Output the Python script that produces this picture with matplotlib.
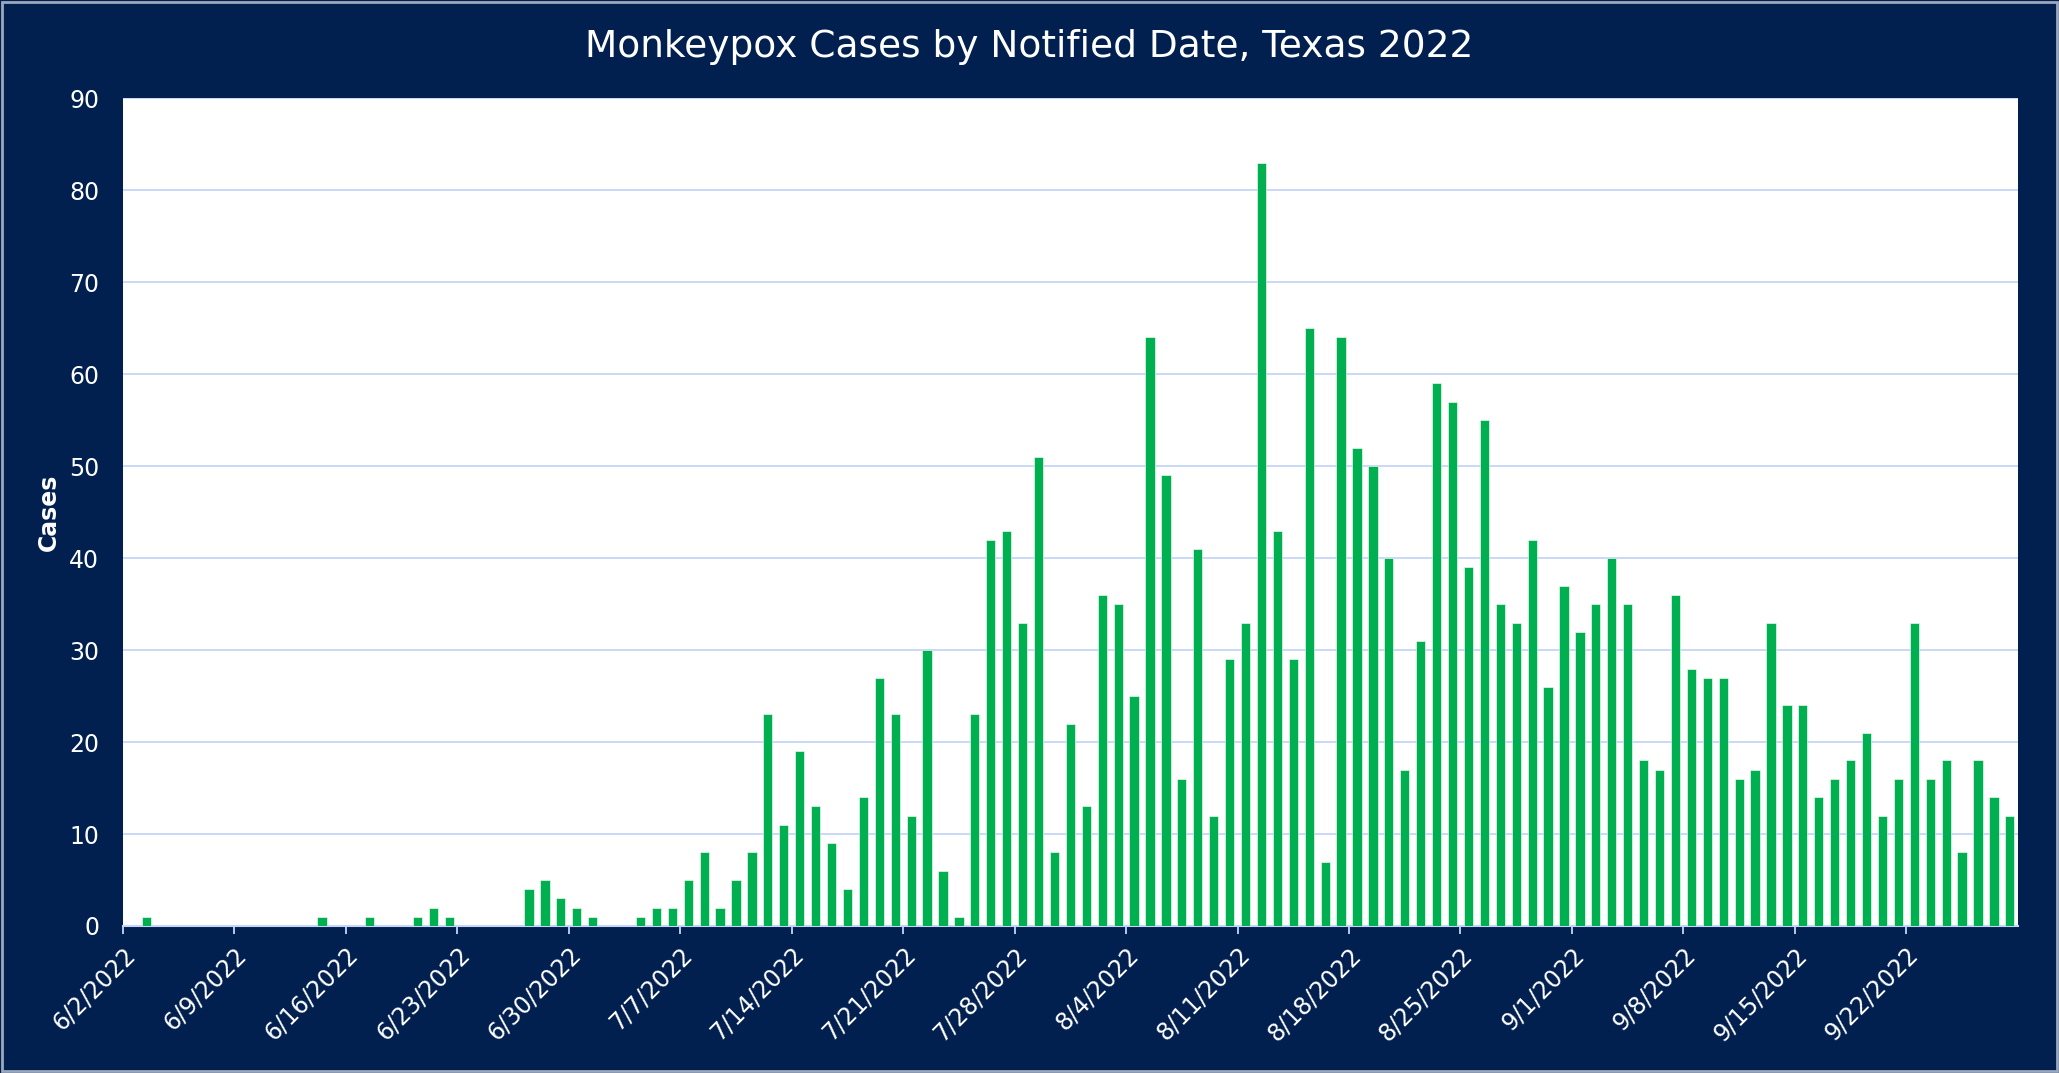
import matplotlib
matplotlib.use("Agg")
import matplotlib.pyplot as plt
import pandas as pd
from matplotlib.patches import Rectangle

# daily notified cases, 6/2/2022 .. 9/28/2022
start_date = "2022-06-02"
cases = [
    0, 1, 0, 0, 0, 0, 0, 0, 0, 0, 0, 0, 1, 0, 0, 1, 0, 0, 1, 2,  # 6/2 - 6/21
    1, 0, 0, 0, 0, 4, 5, 3, 2, 1, 0, 0, 1, 2, 2, 5, 8, 2, 5, 8,  # 6/22 - 7/11
    23, 11, 19, 13, 9, 4, 14, 27, 23, 12, 30, 6, 1, 23, 42, 43, 33, 51, 8, 22,  # 7/12 - 7/31
    13, 36, 35, 25, 64, 49, 16, 41, 12, 29, 33, 83, 43, 29, 65, 7, 64, 52, 50, 40,  # 8/1 - 8/20
    17, 31, 59, 57, 39, 55, 35, 33, 42, 26, 37, 32, 35, 40, 35, 18, 17, 36, 28, 27,  # 8/21 - 9/9
    27, 16, 17, 33, 24, 24, 14, 16, 18, 21, 12, 16, 33, 16, 18, 8, 18, 14, 12,  # 9/10 - 9/28
]
title = "Monkeypox Cases by Notified Date, Texas 2022"
y_label = "Cases"
y_ticks = list(range(0, 91, 10))

navy = "#012050"
green = "#00B050"
grid_blue = "#C6D6F6"

days = pd.date_range(start_date, periods=len(cases))
bar_pos = days + pd.Timedelta(hours=12)
tick_days = days[::7]
tick_labels = [f"{d.month}/{d.day}/{d.year}" for d in tick_days]

fig = plt.figure(figsize=(20.59, 10.73), dpi=100, facecolor=navy)
ax = fig.add_axes([0.0597, 0.137, 0.9203, 0.7713])
ax.set_facecolor("white")

ax.bar(bar_pos, cases, width=0.58, color=green, edgecolor="white", linewidth=0.4, zorder=3)

ax.set_xlim(days[0], days[-1] + pd.Timedelta(days=1))
ax.set_ylim(0, 90)
ax.set_yticks(y_ticks)
ax.yaxis.grid(True, color=grid_blue, linewidth=1.3, zorder=0)
ax.tick_params(axis="y", length=0, pad=17, labelsize=17, labelcolor="white")

ax.set_xticks(tick_days)
ax.set_xticklabels(tick_labels, rotation=45, ha="right", rotation_mode="anchor")
ax.tick_params(axis="x", length=6, width=1.3, color=grid_blue, direction="out",
               pad=6, labelsize=17, labelcolor="white")

for side in ["left", "right", "top"]:
    ax.spines[side].set_visible(False)
ax.spines["bottom"].set_color(grid_blue)
ax.spines["bottom"].set_linewidth(1.5)

ax.set_ylabel(y_label, color="white", fontsize=17, fontweight="bold", labelpad=6)
fig.text(0.5, 0.956, title, color="white", fontsize=27, ha="center", va="center")

# thin light frame round the whole picture
fig.add_artist(Rectangle((0.0008, 0.0015), 0.9984, 0.997, transform=fig.transFigure,
                         fill=False, edgecolor="#9DA8BC", linewidth=2))

fig.savefig("out.png", dpi=100, facecolor=navy)
